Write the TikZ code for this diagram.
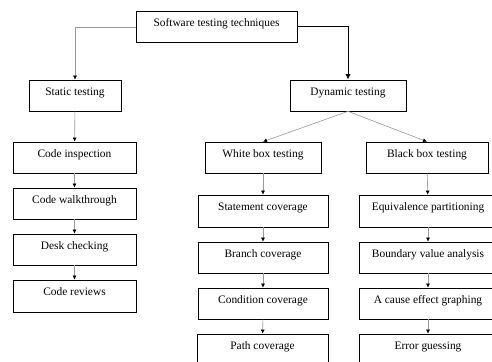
\documentclass[tikz,border=0pt]{standalone}
\usepackage{fontspec}
\setmainfont{Liberation Serif}
\usetikzlibrary{arrows.meta}
\begin{document}
\begin{tikzpicture}[x=1pt,y=-1pt,
  box/.style={draw=black,line width=0.7pt,rectangle,minimum height=31pt,inner sep=0pt,
    font=\fontsize{11.4}{13}\selectfont,text height=7.5pt,text depth=8.5pt},
  garrow/.style={draw=black!40,line width=0.6pt,-{Latex[color=black,length=4pt,width=4pt]}},
  barrow/.style={draw=black,line width=1pt,-{Latex[length=5.5pt,width=5pt]}}]
\useasboundingbox (0,0) rectangle (492,361);
\clip (0,0) rectangle (492,361);
\node[box,minimum width=161pt] (top) at (216.5,27) {Software testing techniques};
\node[box,minimum width=92pt] (stat) at (75,95.5) {Static testing};
\node[box,minimum width=116pt] (dyn) at (348,95.5) {Dynamic testing};
\node[box,minimum width=123pt] (ci) at (74.5,157.5) {Code inspection};
\node[box,minimum width=123pt] (cw) at (74.5,203.5) {Code walkthrough};
\node[box,minimum width=123pt] (dc) at (74.5,249.5) {Desk checking};
\node[box,minimum width=123pt,minimum height=32pt] (cr) at (74.5,296) {Code reviews};
\node[box,minimum width=116pt] (wb) at (263,157.5) {White box testing};
\node[box,minimum width=130pt,minimum height=32pt] (sc) at (263,211) {Statement coverage};
\node[box,minimum width=130pt] (bc) at (263,257.5) {Branch coverage};
\node[box,minimum width=130pt] (cc) at (263,303.5) {Condition coverage};
\node[box,minimum width=131pt] (pc) at (262.5,349.5) {Path coverage};
\node[box,minimum width=122pt] (bb) at (427,157.5) {Black box testing};
\node[box,minimum width=138pt,minimum height=32pt] (ep) at (428,211) {Equivalence partitioning};
\node[box,minimum width=138pt] (bv) at (428,257.5) {Boundary value analysis};
\node[box,minimum width=138pt] (ce) at (428,303.5) {A cause effect graphing};
\node[box,minimum width=138pt] (eg) at (428,349.5) {Error guessing};
\draw[garrow] (top.west) -| (stat.north);
\draw[barrow] (top.east) -| (dyn.north);
\draw[garrow] (stat) -- (ci);
\draw[garrow] (ci) -- (cw);
\draw[garrow] (cw) -- (dc);
\draw[garrow] (dc) -- (cr);
\draw[garrow] (dyn.south) -- (wb.north);
\draw[garrow] (dyn.south) -- (bb.north);
\draw[garrow] (wb) -- (sc);
\draw[garrow] (sc) -- (bc);
\draw[garrow] (bc) -- (cc);
\draw[garrow] (cc) -- (pc);
\draw[garrow] (bb) -- (ep);
\draw[garrow] (ep) -- (bv);
\draw[garrow] (bv) -- (ce);
\draw[garrow] (ce) -- (eg);
\end{tikzpicture}
\end{document}
